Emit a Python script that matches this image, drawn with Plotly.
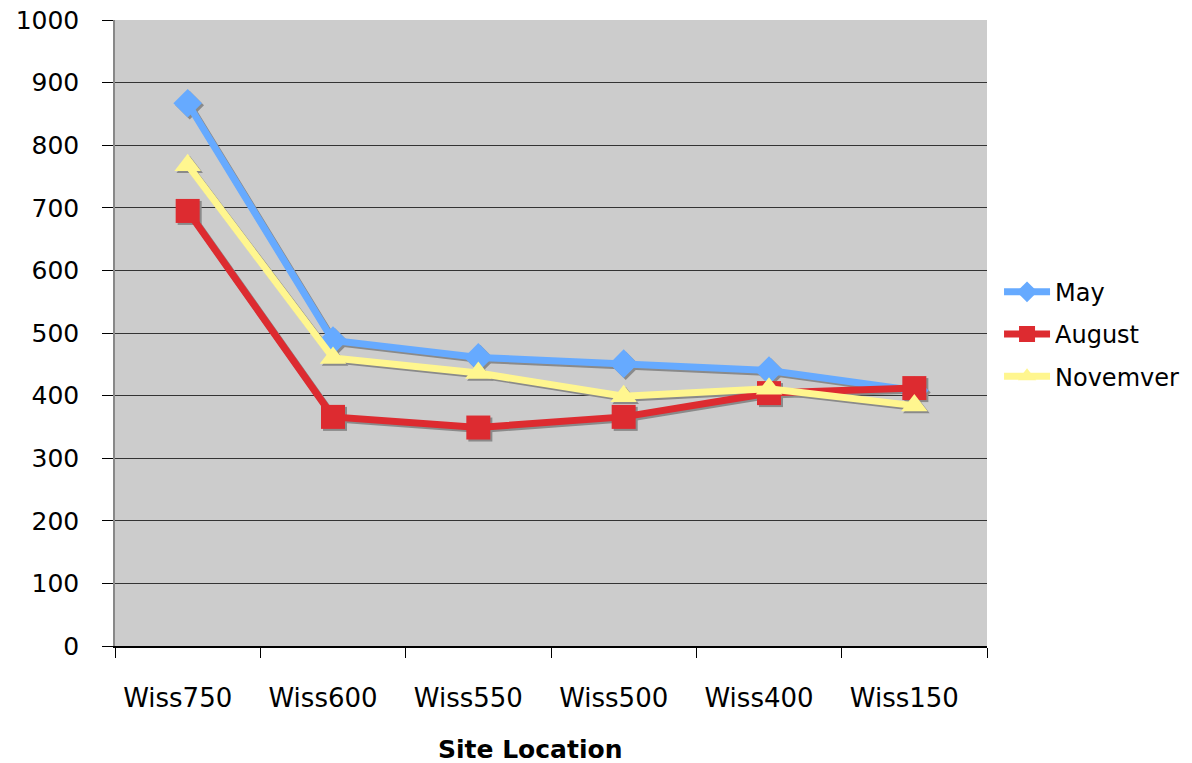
import plotly.graph_objects as go

sites = ["Wiss750", "Wiss600", "Wiss550", "Wiss500", "Wiss400", "Wiss150"]
may = [867, 488, 461, 451, 440, 408]
august = [695, 366, 349, 366, 404, 412]
november = [768, 460, 436, 399, 411, 384]
y_ticks = [0, 100, 200, 300, 400, 500, 600, 700, 800, 900, 1000]

series = [
    ("May", may, "#66aaff", "diamond", 22),
    ("August", august, "#dd2b30", "square", 24),
    ("Novemver", november, "#fff68f", "triangle-up", 23),
]

FONT = "DejaVu Sans, Verdana, sans-serif"
fig = go.Figure()

# shadows (on hidden base axes with slightly shifted ranges)
for name, vals, color, sym, size in series:
    fig.add_trace(go.Scatter(
        x=sites, y=vals, mode="lines+markers", xaxis="x", yaxis="y",
        line=dict(color="#8a8a8a", width=7),
        marker=dict(symbol=sym, size=size, color="#8a8a8a", line=dict(width=0)),
        showlegend=False, hoverinfo="skip"))

for name, vals, color, sym, size in series:
    fig.add_trace(go.Scatter(
        x=sites, y=vals, mode="lines+markers", name=name, xaxis="x2", yaxis="y2",
        legendgroup=name,
        line=dict(color=color, width=7),
        marker=dict(symbol=sym, size=size, color=color, line=dict(width=0))))

dx = 0.014
dy = 3.2
fig.update_layout(
    width=1184, height=755,
    margin=dict(l=107, r=205, t=12, b=117, autoexpand=False),
    paper_bgcolor="white", plot_bgcolor="#cccccc",
    font=dict(family=FONT, size=25, color="black"),
    xaxis=dict(type="category", range=[-0.5 - dx, 5.5 - dx], visible=False,
               categoryorder="array", categoryarray=sites, automargin=False),
    yaxis=dict(range=[0 + dy, 1000 + dy], visible=False, automargin=False),
    xaxis2=dict(type="category", overlaying="x", range=[-0.5, 5.5],
                categoryorder="array", categoryarray=sites, automargin=False,
                showgrid=False, showline=True, linecolor="black", linewidth=1.5,
                ticks="outside", ticklen=10, tickcolor="black", tickwidth=1,
                tickson="boundaries", ticklabelstandoff=28, ticklabelshift=-10,
                ticklabeloverflow="allow",
                tickfont=dict(size=26, family=FONT)),
    yaxis2=dict(overlaying="y", range=[0, 1000], tickvals=y_ticks, automargin=False,
                showgrid=True, gridcolor="#333333", gridwidth=1.2,
                showline=True, linecolor="#888888", linewidth=1.5,
                ticks="outside", ticklen=11, tickcolor="black", tickwidth=1,
                ticklabelstandoff=18, zeroline=False, ticklabeloverflow="allow",
                tickfont=dict(size=25, family=FONT)),
    legend=dict(x=1.0138, xanchor="left", y=0.498, yanchor="middle",
                bgcolor="rgba(0,0,0,0)", font=dict(size=24, family=FONT),
                itemwidth=46, tracegroupgap=8),
    annotations=[dict(text="<b>Site Location</b>", xref="paper", yref="paper",
                      x=0.476, y=0, yshift=-103, xanchor="center", yanchor="middle",
                      showarrow=False, font=dict(size=25, family=FONT))],
)

fig.write_html("out.html")
